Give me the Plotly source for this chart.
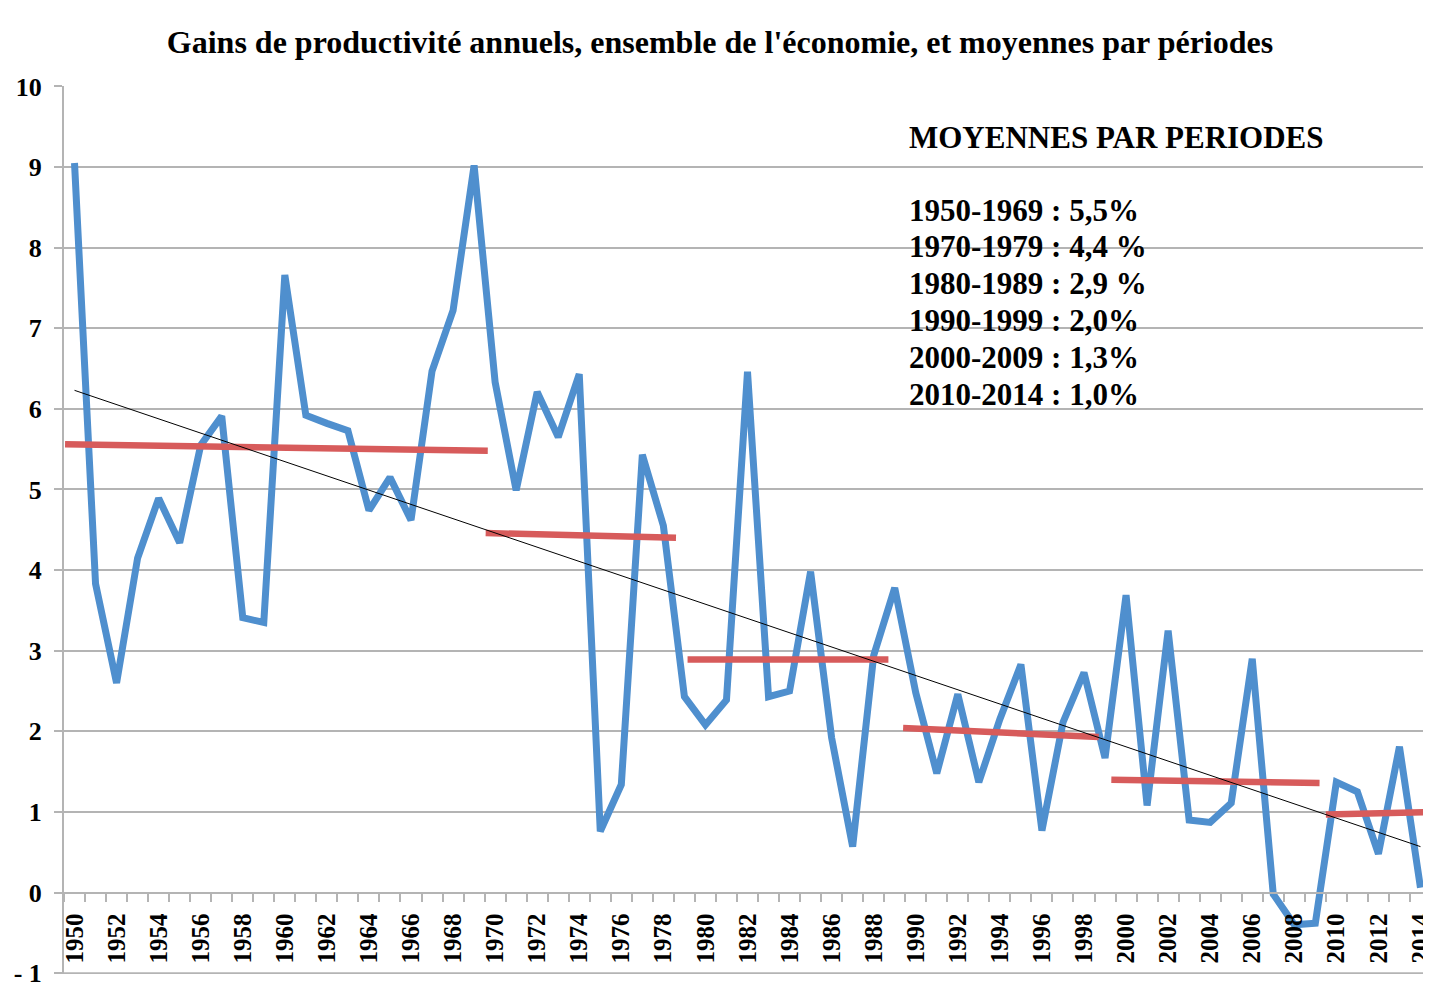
import plotly.graph_objects as go

years = list(range(1950, 2015))
gains = [9.05, 3.83, 2.60, 4.15, 4.89, 4.34, 5.55, 5.91, 3.41, 3.35,
         7.66, 5.92, 5.82, 5.73, 4.74, 5.15, 4.62, 6.47, 7.22, 9.02,
         6.33, 4.99, 6.21, 5.65, 6.43, 0.76, 1.34, 5.43, 4.55, 2.43,
         2.08, 2.39, 6.46, 2.43, 2.50, 3.98, 1.92, 0.57, 2.94, 3.78,
         2.48, 1.48, 2.46, 1.37, 2.15, 2.83, 0.77, 2.11, 2.73, 1.67,
         3.69, 1.08, 3.25, 0.90, 0.87, 1.11, 2.90, -0.02, -0.40, -0.38,
         1.37, 1.25, 0.48, 1.81, 0.06]

# tendance linéaire (extrémités)
trend_years = [1950, 2014]
trend_values = [6.23, 0.57]

# moyennes par périodes (segments rouges)
avg_x_start = [1949.55, 1969.55, 1979.15, 1989.4, 1999.3, 2009.5]
avg_x_end = [1969.65, 1978.6, 1988.7, 1998.7, 2009.2, 2014.55]
avg_y_start = [5.56, 4.46, 2.89, 2.04, 1.40, 0.97]
avg_y_end = [5.48, 4.40, 2.89, 1.93, 1.36, 1.00]

periods = ["1950-1969", "1970-1979", "1980-1989", "1990-1999", "2000-2009", "2010-2014"]
period_labels = ["5,5%", "4,4 %", "2,9 %", "2,0%", "1,3%", "1,0%"]

y_ticks = list(range(-1, 11))
y_ticktext = ["- 1"] + [str(v) for v in range(0, 11)]
x_ticks = list(range(1950, 2015, 2))

SERIF = "Liberation Serif, Times New Roman, serif"
GRID = "#b4b4b4"

# the page body has an 8px margin: size the figure so the plot lands where it should
W, H = 1423, 981
T, B, L = 78, 15, 56
PH = H - T - B
Y0, Y1 = -1.01, 10.005

fig = go.Figure()

fig.add_trace(go.Scatter(x=years, y=gains, mode='lines',
                         line=dict(color='#4f8fce', width=7), name='Gains'))

ax, ay = [], []
for x0, x1, y0, y1 in zip(avg_x_start, avg_x_end, avg_y_start, avg_y_end):
    ax += [x0, x1, None]
    ay += [y0, y1, None]
fig.add_trace(go.Scatter(x=ax, y=ay, mode='lines',
                         line=dict(color='#d75b5b', width=6.5), name='Moyennes'))

fig.add_trace(go.Scatter(x=trend_years, y=trend_values, mode='lines',
                         line=dict(color='black', width=1), name='Tendance'))

fig.add_annotation(x=1989.6, y=1 - (137 - 86) / PH, xref='x', yref='paper',
                   text="MOYENNES PAR PERIODES", showarrow=False,
                   xanchor='left', yanchor='middle',
                   font=dict(family=SERIF, size=31, color='black', weight='bold'))
for i, (p, lab) in enumerate(zip(periods, period_labels)):
    fig.add_annotation(x=1989.6, y=1 - (210 + 36.8 * i - 86) / PH, xref='x', yref='paper',
                       text=f"{p} : {lab}", showarrow=False,
                       xanchor='left', yanchor='middle',
                       font=dict(family=SERIF, size=31, color='black', weight='bold'))

# bottom gridline (y = -1), which plotly leaves out at the axis edge
fig.add_shape(type='line', xref='paper', yref='y', x0=0, x1=1, y0=y_ticks[0], y1=y_ticks[0],
              line=dict(color=GRID, width=2), layer='below')

fig.update_layout(
    width=W, height=H,
    paper_bgcolor='white', plot_bgcolor='white',
    showlegend=False,
    margin=dict(l=L, r=0, t=T, b=B),
    title=dict(text="Gains de productivité annuels, ensemble de l'économie, et moyennes par périodes",
               x=(720 - 8) / W, xanchor='center', y=1 - 34 / H, yanchor='middle',
               font=dict(family=SERIF, size=32, color='black', weight='bold')),
    xaxis=dict(range=[1949.5, 2014.5], anchor='free', position=(0 - Y0) / (Y1 - Y0),
               tickvals=x_ticks, ticktext=[str(v) for v in x_ticks],
               tickangle=-90, ticks='', showgrid=False, zeroline=False,
               showline=True, linecolor=GRID, linewidth=2,
               ticklabelstandoff=10, ticklabeloverflow='allow',
               tickfont=dict(family=SERIF, size=25, color='black', weight='bold'),
               minor=dict(tick0=1949.5, dtick=1, ticks='outside', ticklen=8,
                          tickcolor=GRID, tickwidth=2, showgrid=False),
               automargin=False),
    yaxis=dict(range=[Y0, Y1], tickvals=y_ticks, ticktext=y_ticktext,
               showgrid=True, gridcolor=GRID, gridwidth=2, zeroline=False,
               showline=True, linecolor=GRID, linewidth=2,
               ticks='outside', ticklen=8, tickcolor=GRID, tickwidth=2,
               ticklabelstandoff=7, ticklabeloverflow='allow',
               tickfont=dict(family=SERIF, size=26, color='black', weight='bold'),
               automargin=False),
)

fig.write_html("out.html")
